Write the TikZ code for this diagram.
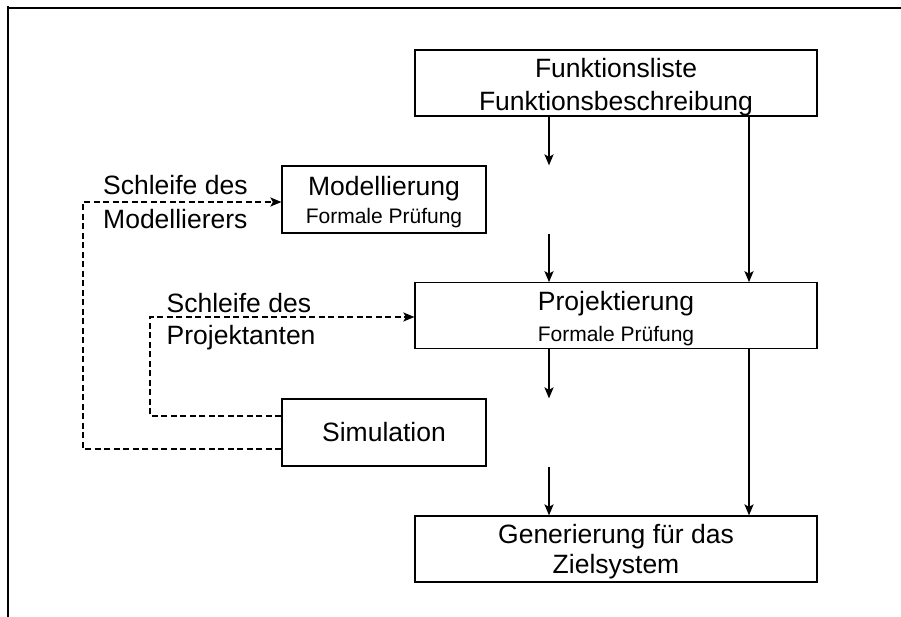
\documentclass[tikz,border=0pt]{standalone}
\usepackage{fontspec}
\setmainfont{Liberation Sans}
\usetikzlibrary{arrows.meta}

\begin{document}
\begin{tikzpicture}[x=1pt,y=-1pt,
  box/.style={draw=black, line width=1.2pt, rectangle, inner sep=0pt},
  wide/.style={box, minimum width=402pt, minimum height=66pt},
  narrow/.style={box, minimum width=204pt, minimum height=67pt},
  big/.style={font=\fontsize{26.5}{30}\selectfont, anchor=base, inner sep=0pt},
  small/.style={font=\fontsize{21}{24}\selectfont, anchor=base, inner sep=0pt},
  flow/.style={line width=2pt, -{Stealth[length=11pt,width=9pt,inset=2.5pt]}},
  loopline/.style={line width=2pt, dash pattern=on 6pt off 3.5pt,
    -{Stealth[length=11pt,width=9pt,inset=2.5pt]}},
  frame/.style={line width=2pt}]

% page extent
\useasboundingbox (0,0) rectangle (901,617);

% frame corner
\coordinate (fTopL) at (7,8);
\coordinate (fTopR) at (901,8);
\coordinate (fLeftT) at (8,6);
\coordinate (fLeftB) at (8,617);
\draw[frame] (fTopL) -- (fTopR);
\draw[frame] (fLeftT) -- (fLeftB);

% process boxes
\node[wide]   (fkt) at (616,83)     {};
\node[narrow] (mod) at (384,199.5)  {};
\node[wide]   (prj) at (616,315.8)  {};
\node[narrow] (sim) at (384,432.5)  {};
\node[wide]   (gen) at (616,549)    {};

% box texts
\node[big]   (fktA) at (616,77.5) {Funktionsliste};
\node[big]   (fktB) at (616,111)  {Funktionsbeschreibung};
\node[big]   (modA) at (384,196)  {Modellierung};
\node[small] (modB) at (384,224)  {Formale Prüfung};
\node[big]   (prjA) at (616,310)  {Projektierung};
\node[small] (prjB) at (616,341)  {Formale Prüfung};
\node[big]   (simA) at (384,441)  {Simulation};
\node[big]   (genA) at (616,543)  {Generierung für das};
\node[big]   (genB) at (616,573)  {Zielsystem};

% loop labels
\node[big, anchor=base west] (lmA) at (103,195)   {Schleife des};
\node[big, anchor=base west] (lmB) at (103,229)   {Modellierers};
\node[big, anchor=base west] (lpA) at (166.5,312.5) {Schleife des};
\node[big, anchor=base west] (lpB) at (166.5,344) {Projektanten};

% vertical flow columns
\coordinate (colL) at (549,0);
\coordinate (colR) at (749,0);

\draw[flow] (fkt.south -| colL) -- (mod.north -| colL);
\draw[flow] (fkt.south -| colR) -- (prj.north -| colR);
\draw[flow] (mod.south -| colL) -- (prj.north -| colL);
\draw[flow] (prj.south -| colL) -- (sim.north -| colL);
\draw[flow] (sim.south -| colL) -- (gen.north -| colL);
\draw[flow] (prj.south -| colR) -- (gen.north -| colR);

% feedback loops
\coordinate (outerX) at (83,0);
\coordinate (innerX) at (150,0);
\draw[loopline] ([yshift=-16.5pt]sim.west) -| (outerX |- 0,202) -- ([yshift=-2.5pt]mod.west);
\draw[loopline] ([yshift=16.5pt]sim.west) -| (innerX |- 0,317) -- ([yshift=-1.2pt]prj.west);

\end{tikzpicture}
\end{document}
